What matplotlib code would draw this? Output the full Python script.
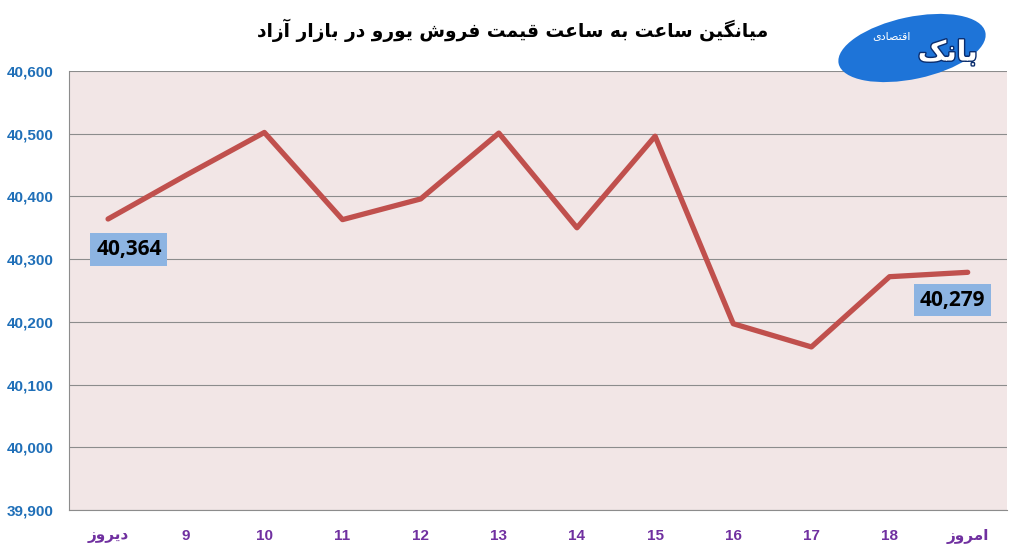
import matplotlib
matplotlib.use("Agg")
from matplotlib import pyplot as plt
from matplotlib.patches import Ellipse
from matplotlib.transforms import IdentityTransform
import matplotlib.patheffects as pe
import numpy as np

title = "میانگین ساعت به ساعت قیمت فروش یورو در بازار آزاد"
hours = ["دیروز", "9", "10", "11", "12", "13", "14", "15", "16", "17", "18", "امروز"]
price = [40364, 40434, 40502, 40363, 40396, 40501, 40350, 40496, 40197, 40160, 40272, 40279]
yticks = [39900, 40000, 40100, 40200, 40300, 40400, 40500, 40600]

# presentation forms: isolated, final, initial, medial
forms = {
    "ا": ("\uFE8D", "\uFE8E"), "آ": ("\uFE81", "\uFE82"),
    "د": ("\uFEA9", "\uFEAA"), "ر": ("\uFEAD", "\uFEAE"),
    "ز": ("\uFEAF", "\uFEB0"), "و": ("\uFEED", "\uFEEE"),
    "ب": ("\uFE8F", "\uFE90", "\uFE91", "\uFE92"),
    "ت": ("\uFE95", "\uFE96", "\uFE97", "\uFE98"),
    "س": ("\uFEB1", "\uFEB2", "\uFEB3", "\uFEB4"),
    "ش": ("\uFEB5", "\uFEB6", "\uFEB7", "\uFEB8"),
    "ع": ("\uFEC9", "\uFECA", "\uFECB", "\uFECC"),
    "ف": ("\uFED1", "\uFED2", "\uFED3", "\uFED4"),
    "ق": ("\uFED5", "\uFED6", "\uFED7", "\uFED8"),
    "م": ("\uFEE1", "\uFEE2", "\uFEE3", "\uFEE4"),
    "ن": ("\uFEE5", "\uFEE6", "\uFEE7", "\uFEE8"),
    "ه": ("\uFEE9", "\uFEEA", "\uFEEB", "\uFEEC"),
    "ی": ("\uFBFC", "\uFBFD", "\uFBFE", "\uFBFF"),
    "گ": ("\uFB92", "\uFB93", "\uFB94", "\uFB95"),
    "ک": ("\uFB8E", "\uFB8F", "\uFB90", "\uFB91"),
    "ص": ("\uFEB9", "\uFEBA", "\uFEBB", "\uFEBC"),
}


def fa(s):
    if not any(c in forms for c in s):
        return s
    out = []
    for i, c in enumerate(s):
        if c not in forms:
            out.append(c)
            continue
        p = s[i - 1] if i > 0 else ""
        n = s[i + 1] if i + 1 < len(s) else ""
        pj = p in forms and len(forms[p]) == 4
        nj = n in forms and len(forms[c]) == 4
        f = forms[c]
        if pj and nj:
            out.append(f[3])
        elif pj:
            out.append(f[1])
        elif nj:
            out.append(f[2])
        else:
            out.append(f[0])
    return "".join(out[::-1])


plt.rcParams['font.family'] = ['DejaVu Sans']
tickfont = ['Liberation Sans', 'DejaVu Sans']

fig = plt.figure(figsize=(10.19, 5.53), dpi=100)
ax = fig.add_axes([0.0677, 0.0778, 0.9203, 0.7938])
ax.set_facecolor("#F2E6E6")

x = np.arange(len(hours))
ax.plot(x, price, color="#C0504D", linewidth=3.8, solid_capstyle="round", zorder=3)

ax.set_xlim(-0.5, len(hours) - 0.5)
ax.set_ylim(39900, 40600)
ax.set_yticks(yticks)
ax.set_yticklabels([f"{v:,}" for v in yticks], color="#1F6FB8", fontsize=11, fontweight="bold",
                   family=tickfont)
ax.set_xticks(x)
ax.set_xticklabels([fa(h) for h in hours], color="#7030A0", fontsize=11, fontweight="bold",
                   family=tickfont)
ax.tick_params(length=0)
ax.tick_params(axis="x", pad=14)
ax.tick_params(axis="y", pad=11)
ax.grid(axis="y", color="#8C8C8C", linewidth=0.8)
ax.set_axisbelow(True)
for s in ["top", "right"]:
    ax.spines[s].set_visible(False)
for s in ["left", "bottom"]:
    ax.spines[s].set_color("#8C8C8C")

box = dict(boxstyle="square,pad=0.28", facecolor="#8DB4E2", edgecolor="none")
lab = dict(ha="center", va="center", fontsize=15, fontweight="bold",
           family=['Open Sans', 'DejaVu Sans'], bbox=box, zorder=4)
ax.annotate(f"{price[0]:,}", (x[0], price[0]), xytext=(15, -22), textcoords="offset points", **lab)
ax.annotate(f"{price[-1]:,}", (x[-1], price[-1]), xytext=(-11, -20), textcoords="offset points", **lab)

fig.text(0.503, 0.945, fa(title), ha="center", va="center", fontsize=13.4, fontweight="bold")

# logo
fig.patches.append(Ellipse((912, 553 - 48), 150, 62, angle=12, transform=IdentityTransform(),
                           facecolor="#1E74D8", edgecolor="none", zorder=5))
fig.text(0.93, 0.905, fa("بانک"), ha="center", va="center", fontsize=20, fontweight="bold",
         color="white", zorder=6,
         path_effects=[pe.withStroke(linewidth=2, foreground="#0A2D6E")])
fig.text(0.875, 0.935, fa("اقتصادی"), ha="center", va="center", fontsize=8, color="white", zorder=6)

fig.savefig("out.png", dpi=100)
